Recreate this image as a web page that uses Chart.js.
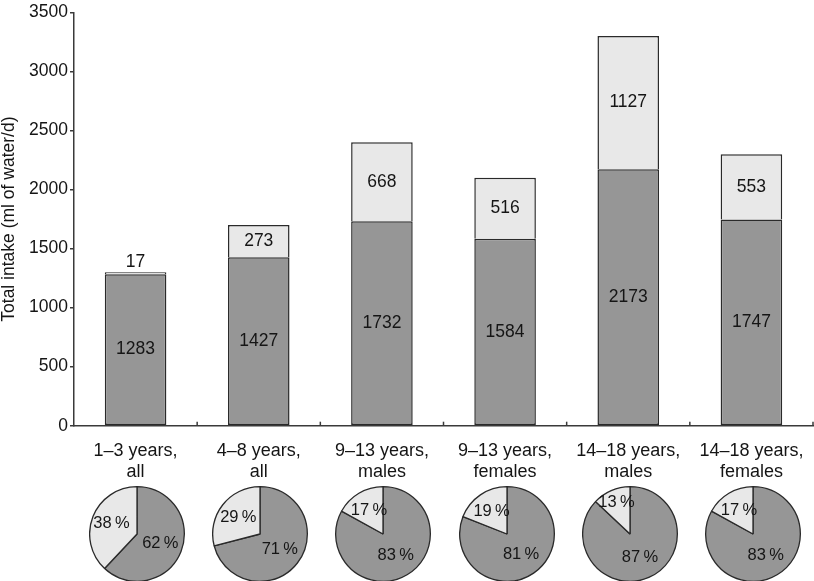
<!DOCTYPE html>
<html><head><meta charset="utf-8">
<script src="https://cdn.jsdelivr.net/npm/chart.js@4/dist/chart.umd.min.js"></script>
<style>
html,body{margin:0;padding:0;background:#fff;}
#wrap{position:relative;width:814px;height:581px;overflow:hidden;}
#wrap canvas{position:absolute;left:0;top:0;}
</style>
</head><body>
<div id="wrap"><canvas id="main" width="814" height="581"></canvas></div>
<script>
// ---- data ----
const categories = [["1–3 years,","all"],["4–8 years,","all"],["9–13 years,","males"],["9–13 years,","females"],["14–18 years,","males"],["14–18 years,","females"]];
const darkValues = [1283, 1427, 1732, 1584, 2173, 1747];
const lightValues = [17, 273, 668, 516, 1127, 553];
const darkPercent = [62, 71, 83, 81, 87, 83];
const lightPercent = [38, 29, 17, 19, 13, 17];
const yTickValues = [0, 500, 1000, 1500, 2000, 2500, 3000, 3500];
const yAxisTitle = "Total intake (ml of water/d)";

// ---- style ----
const FONT = "'Liberation Sans', Arial, Helvetica, sans-serif";
const DARK = '#969696';
const LIGHT = '#e8e8e8';
const EDGE = '#2a2a2a';
const AXIS = '#3a3a3a';
const TEXT = '#151515';

const innerTicks = {
  id: 'innerTicks',
  afterDraw(chart) {
    const xs = chart.scales.x, ctx = chart.ctx, b = chart.chartArea.bottom;
    ctx.save();
    ctx.strokeStyle = AXIS; ctx.lineWidth = 1.5;
    for (let i = 1; i <= categories.length; i++) {
      const px = Math.min(xs.getPixelForValue(i - 0.5), chart.width - 1);
      ctx.beginPath(); ctx.moveTo(px, b); ctx.lineTo(px, b - 4); ctx.stroke();
    }
    ctx.restore();
  }
};

const barLabels = {
  id: 'barLabels',
  afterDatasetsDraw(chart) {
    const ctx = chart.ctx;
    ctx.save();
    ctx.font = '17.5px ' + FONT;
    ctx.fillStyle = TEXT; ctx.textAlign = 'center'; ctx.textBaseline = 'middle';
    chart.data.datasets.forEach((ds, di) => {
      chart.getDatasetMeta(di).data.forEach((el, i) => {
        const top = Math.min(el.y, el.base), bot = Math.max(el.y, el.base);
        let y = (top + bot) / 2;
        if (bot - top < 22) y = top - 10;
        ctx.fillText(String(ds.data[i]), el.x, y);
      });
    });
    ctx.restore();
  }
};

const mainChart = new Chart(document.getElementById('main'), {
  type: 'bar',
  data: {
    labels: categories,
    datasets: [
      { data: darkValues, backgroundColor: DARK, borderColor: EDGE, borderWidth: 1.5, borderSkipped: false, barPercentage: 0.5, categoryPercentage: 1 },
      { data: lightValues, backgroundColor: LIGHT, borderColor: EDGE, borderWidth: 1.5, borderSkipped: 'bottom', barPercentage: 0.5, categoryPercentage: 1 }
    ]
  },
  options: {
    responsive: false, animation: false, devicePixelRatio: 1,
    layout: { padding: { top: 10, right: 1, bottom: 0, left: 0 } },
    plugins: { legend: { display: false }, tooltip: { enabled: false } },
    scales: {
      x: {
        stacked: true, offset: true,
        grid: { display: false },
        border: { display: true, color: AXIS, width: 1.5 },
        ticks: { color: TEXT, font: { family: FONT, size: 18, lineHeight: 1.17 }, padding: 7, maxRotation: 0, autoSkip: false },
        afterFit(s) { s.height = 155.3; }
      },
      y: {
        stacked: true, min: 0, max: 3500,
        afterBuildTicks(s) { s.ticks = yTickValues.map(v => ({ value: v })); },
        grid: { drawOnChartArea: false, drawTicks: true, tickLength: 4, color: AXIS, lineWidth: 1.5 },
        border: { display: true, color: AXIS, width: 1.5 },
        ticks: { color: TEXT, font: { family: FONT, size: 17.5 }, padding: 2, callback: v => String(v) },
        title: { display: true, text: yAxisTitle, color: TEXT, font: { family: FONT, size: 17.5, lineHeight: 1 }, padding: { top: 0, bottom: 0 } },
        afterFit(s) { s.width = 74; }
      }
    }
  },
  plugins: [innerTicks, barLabels]
});

const pieLabels = {
  id: 'pieLabels',
  afterDatasetsDraw(chart) {
    const ctx = chart.ctx;
    const ds = chart.data.datasets[0];
    ctx.save();
    ctx.font = '16.5px ' + FONT;
    ctx.fillStyle = TEXT; ctx.textAlign = 'center'; ctx.textBaseline = 'middle';
    chart.getDatasetMeta(0).data.forEach((el, i) => {
      const p = el.getProps(['x', 'y', 'startAngle', 'endAngle', 'outerRadius']);
      const mid = (p.startAngle + p.endAngle) / 2;
      const v = ds.data[i];
      const f = i === 0 ? 0.53 : (v < 15 ? 0.72 : 0.58);
      ctx.fillText(v + '\u2009%', p.x + Math.cos(mid) * p.outerRadius * f, p.y + Math.sin(mid) * p.outerRadius * f);
    });
    ctx.restore();
  }
};

const wrap = document.getElementById('wrap');
const xs = mainChart.scales.x;
categories.forEach((c, i) => {
  const cv = document.createElement('canvas');
  cv.width = 96; cv.height = 96;
  cv.style.left = (xs.getPixelForValue(i) + 1.5 - 48) + 'px';
  cv.style.top = (533.5 - 48) + 'px';
  wrap.appendChild(cv);
  new Chart(cv, {
    type: 'pie',
    data: { labels: ['dark', 'light'], datasets: [{ data: [darkPercent[i], lightPercent[i]], backgroundColor: [DARK, LIGHT], borderColor: EDGE, borderWidth: 1.3 }] },
    options: {
      responsive: false, animation: false, devicePixelRatio: 1,
      layout: { padding: 0 },
      plugins: { legend: { display: false }, tooltip: { enabled: false } }
    },
    plugins: [pieLabels]
  });
});
</script>
</body></html>
